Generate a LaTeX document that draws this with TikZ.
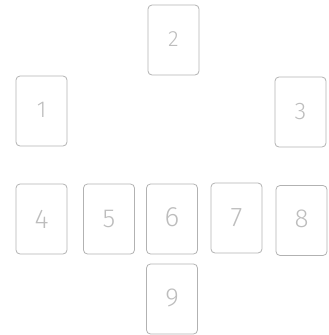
\documentclass[tikz,border=0pt]{standalone}
\usepackage{fontspec}
\setmainfont{Fira Sans Light}
\begin{document}
\begin{tikzpicture}[x=1pt,y=-1pt,
  card/.style={draw=black!30, line width=0.8pt, rounded corners=4pt, minimum width=51pt, minimum height=70pt, inner sep=0pt, text=black!26, font=\fontsize{#1}{#1}\selectfont},
  card/.default=26]
\useasboundingbox (0,0) rectangle (329,335);
\node[card=23] (c1) at (41.5,111) {\raisebox{2pt}{1}};
\node[card=22] (c2) at (173.5,40) {\raisebox{1.5pt}{2}};
\node[card=24] (c3) at (300.5,112) {\raisebox{-1.5pt}{3}};
\node[card=27] (c4) at (41.5,219) {4};
\node[card=26] (c5) at (109,219) {\raisebox{-1pt}{5}};
\node[card=28] (c6) at (172,219) {\raisebox{3pt}{6}};
\node[card=27] (c7) at (236.5,218) {\raisebox{0.5pt}{7}};
\node[card=26] (c8) at (301.5,220.5) {\raisebox{4pt}{8}};
\node[card=26] (c9) at (172,299) {\raisebox{2pt}{9}};
\end{tikzpicture}
\end{document}
